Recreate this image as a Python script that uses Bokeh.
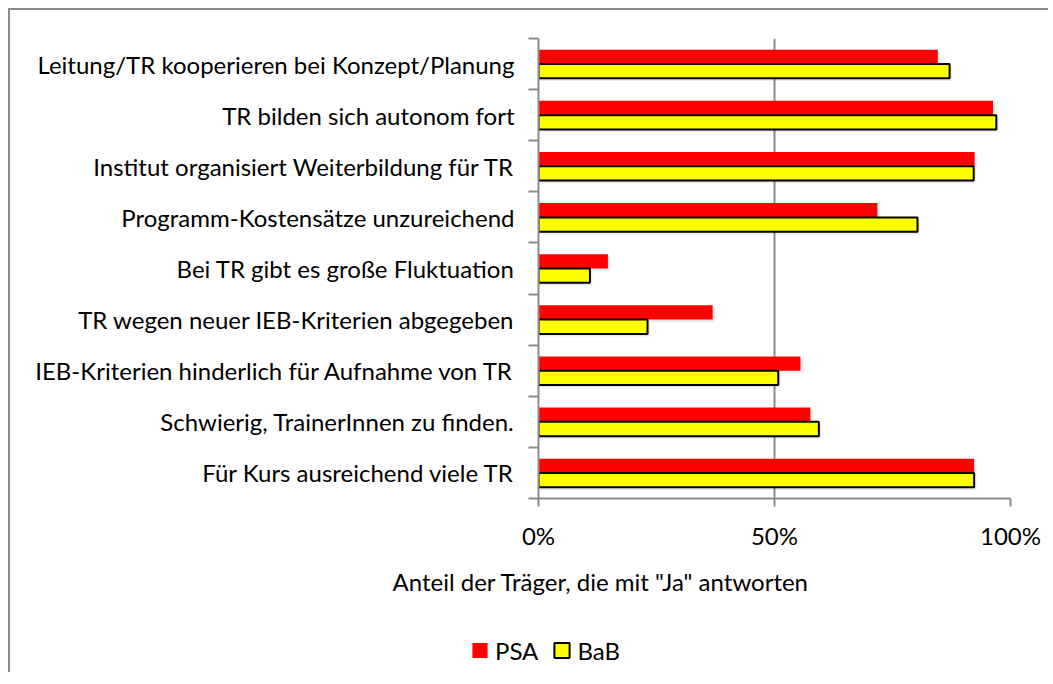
from bokeh.plotting import figure
from bokeh.models import (Range1d, LinearAxis, FixedTicker, Title,
                          NumeralTickFormatter, Legend, LegendItem, ColumnDataSource)
from bokeh.transform import dodge
from bokeh.embed import file_html
from bokeh.resources import INLINE

categories = [
    "Leitung/TR kooperieren bei Konzept/Planung",
    "TR bilden sich autonom fort",
    "Institut organisiert Weiterbildung für TR",
    "Programm-Kostensätze unzureichend",
    "Bei TR gibt es große Fluktuation",
    "TR wegen neuer IEB-Kriterien abgegeben",
    "IEB-Kriterien hinderlich für Aufnahme von TR",
    "Schwierig, TrainerInnen zu finden.",
    "Für Kurs ausreichend viele TR",
]
psa = [0.846, 0.963, 0.924, 0.718, 0.147, 0.369, 0.555, 0.576, 0.923]
bab = [0.871, 0.970, 0.922, 0.803, 0.109, 0.231, 0.508, 0.594, 0.923]
x_ticks = [0, 0.5, 1.0]
series_names = ["PSA", "BaB"]
series_colors = ["#ff0000", "#ffff00"]
x_title = 'Anteil der Träger, die mit "Ja" antworten'

FONT = "Lato"
GREY = "#8c8c8c"
FS = "24px"

n = len(categories)
pos = [n - i - 0.5 for i in range(n)]  # category slot centres, first at top
src = ColumnDataSource(dict(y=pos, psa=psa, bab=bab))

W, H1, H2 = 1040, 620, 44
p = figure(width=W, height=H1, output_backend="svg", toolbar_location=None,
           y_range=Range1d(0, n), x_range=Range1d(0, 1.0),
           x_axis_location=None, y_axis_location=None,
           min_border_left=528, min_border_right=40, min_border_top=28, min_border_bottom=132)
p.styles = {"margin-left": "8px", "margin-top": "8px",
            "border-left": f"2px solid {GREY}", "border-top": f"2px solid {GREY}"}
p.outline_line_color = None
p.background_fill_color = "white"
p.border_fill_color = "white"

# tick axis at category boundaries
bounds = list(range(n + 1))
tick_axis = LinearAxis(ticker=FixedTicker(ticks=bounds),
                       major_label_overrides={b: "" for b in bounds}, major_label_standoff=0,
                       major_tick_out=10, major_tick_in=0, minor_tick_line_color=None,
                       axis_line_color=GREY, axis_line_width=2,
                       major_tick_line_color=GREY, major_tick_line_width=2)
cat_axis = LinearAxis(ticker=FixedTicker(ticks=pos),
                      major_label_overrides={pv: c for pv, c in zip(pos, categories)},
                      axis_line_color=None, major_tick_line_color=None, minor_tick_line_color=None,
                      major_label_text_font=FONT, major_label_text_font_size=FS,
                      major_label_text_color="black", major_label_standoff=8)
p.add_layout(tick_axis, "left")
p.add_layout(cat_axis, "left")

xaxis = LinearAxis(ticker=FixedTicker(ticks=x_ticks), formatter=NumeralTickFormatter(format="0%"),
                   major_tick_out=8, major_tick_in=0, minor_tick_line_color=None,
                   axis_line_color=GREY, axis_line_width=2,
                   major_tick_line_color=GREY, major_tick_line_width=2,
                   major_label_text_font=FONT, major_label_text_font_size=FS,
                   major_label_text_color="black", major_label_standoff=14)
p.add_layout(xaxis, "below")

p.add_layout(Title(text=x_title, align="left", offset=-146, standoff=24,
                   text_font=FONT, text_font_size=FS, text_font_style="normal",
                   text_color="black"), "below")

p.xgrid.grid_line_color = GREY
p.xgrid.grid_line_width = 2
p.xgrid.ticker = FixedTicker(ticks=x_ticks[1:])
p.ygrid.grid_line_color = None

BH = 0.28
# soft shadows
for fld, off in (("psa", BH / 2), ("bab", -BH / 2)):
    p.hbar(y=dodge("y", off - 0.05), right=dodge(fld, 0.005), left=0, height=BH,
           source=src, fill_color="black", fill_alpha=0.08, line_color=None)

p.hbar(y=dodge("y", BH / 2), right="psa", left=0, height=BH,
       source=src, fill_color=series_colors[0], line_color=None)
p.hbar(y=dodge("y", -BH / 2), right="bab", left=0, height=BH,
       source=src, fill_color=series_colors[1], line_color="black", line_width=2)

# legend strip below the chart (separate root so its frame is not aligned to the chart)
pl = figure(width=W, height=H2, output_backend="svg", toolbar_location=None,
            x_range=Range1d(0, 1), y_range=Range1d(0, 1),
            x_axis_location=None, y_axis_location=None,
            min_border_left=460, min_border_right=0, min_border_top=0, min_border_bottom=0)
pl.styles = {"margin-left": "8px", "border-left": f"2px solid {GREY}"}
pl.outline_line_color = None
pl.grid.visible = False
# legend key glyphs, placed far outside the visible range
key_src = ColumnDataSource(dict(x=[-50], y=[-50]))
lr_psa = pl.rect(x="x", y="y", width=1, height=1, source=key_src,
                 fill_color=series_colors[0], line_color=None)
lr_bab = pl.rect(x="x", y="y", width=1, height=1, source=key_src,
                 fill_color=series_colors[1], line_color="black", line_width=2)
legend = Legend(items=[LegendItem(label=series_names[0], renderers=[lr_psa]),
                       LegendItem(label=series_names[1], renderers=[lr_bab])],
                orientation="horizontal", location="left",
                label_text_font=FONT, label_text_font_size=FS, label_text_color="black",
                glyph_width=19, glyph_height=19, label_standoff=6, spacing=14,
                padding=0, margin=0, border_line_color=None, background_fill_alpha=0)
pl.add_layout(legend, "center")

open("out.html", "w").write(file_html([p, pl], INLINE))
